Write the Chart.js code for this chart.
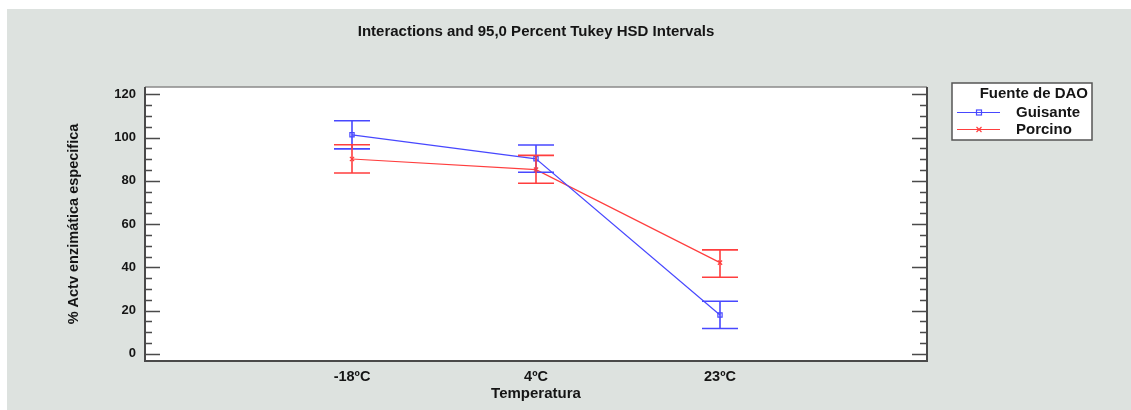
<!DOCTYPE html>
<html>
<head>
<meta charset="utf-8">
<script src="https://cdn.jsdelivr.net/npm/chart.js@4"></script>
<style>
  html, body { margin: 0; padding: 0; background: #fff; }
  canvas { display: block; }
</style>
</head>
<body>
<canvas id="chart" width="1131" height="410"></canvas>
<script>
// Datos
const categories = ['-18ºC', '4ºC', '23ºC'];
const guisanteMean = [101.3, 90.2, 18.0];
const guisanteLow = [94.8, 84.0, 11.7];
const guisanteHigh = [107.8, 96.6, 24.3];
const porcinoMean = [90.1, 85.2, 42.2];
const porcinoLow = [83.6, 78.9, 35.4];
const porcinoHigh = [96.7, 91.8, 48.1];
const yTicks = [0, 20, 40, 60, 80, 100, 120];

const FONT = "'Liberation Sans', Arial, sans-serif";
const BLUE = 'rgb(72, 72, 255)';
const RED = 'rgb(255, 62, 62)';
const TEXT = '#151515';

function toPoints(values) {
  return values.map((v, i) => ({ x: i + 1, y: v }));
}

// Fondo gris, título, marco, ticks y leyenda
const decor = {
  id: 'decor',
  beforeDraw(chart) {
    const ctx = chart.ctx;
    const a = chart.chartArea;
    ctx.save();
    ctx.fillStyle = '#ffffff';
    ctx.fillRect(0, 0, chart.width, chart.height);
    ctx.fillStyle = '#dde2df';
    ctx.fillRect(7, 9, chart.width - 7, chart.height - 9);
    ctx.fillStyle = '#ffffff';
    ctx.fillRect(a.left, a.top, a.right - a.left, a.bottom - a.top);
    ctx.restore();
  },
  afterDatasetsDraw(chart) {
    const ctx = chart.ctx;
    const a = chart.chartArea;
    const x = chart.scales.x;
    const y = chart.scales.y;

    // barras de error
    const bars = [
      [guisanteLow, guisanteHigh, BLUE],
      [porcinoLow, porcinoHigh, RED]
    ];
    ctx.save();
    ctx.lineWidth = 1.6;
    bars.forEach(([lo, hi, color]) => {
      ctx.strokeStyle = color;
      lo.forEach((l, i) => {
        const px = x.getPixelForValue(i + 1);
        const y1 = y.getPixelForValue(l);
        const y2 = y.getPixelForValue(hi[i]);
        ctx.beginPath();
        ctx.moveTo(px, y1);
        ctx.lineTo(px, y2);
        ctx.moveTo(px - 18, y1);
        ctx.lineTo(px + 18, y1);
        ctx.moveTo(px - 18, y2);
        ctx.lineTo(px + 18, y2);
        ctx.stroke();
      });
    });

    // marco
    ctx.strokeStyle = '#8a8a8a';
    ctx.lineWidth = 1.5;
    ctx.beginPath();
    ctx.moveTo(a.left, a.top);
    ctx.lineTo(a.right, a.top);
    ctx.stroke();
    ctx.strokeStyle = '#4a4a4a';
    ctx.lineWidth = 2;
    ctx.beginPath();
    ctx.moveTo(a.left, a.top);
    ctx.lineTo(a.left, a.bottom);
    ctx.lineTo(a.right, a.bottom);
    ctx.lineTo(a.right, a.top);
    ctx.stroke();

    // ticks interiores (mayores cada 20, menores cada 5)
    ctx.lineWidth = 1.5;
    ctx.strokeStyle = '#4a4a4a';
    for (let v = 0; v <= 120; v += 5) {
      const py = Math.round(y.getPixelForValue(v)) + 0.5;
      const len = v % 20 === 0 ? 15 : 7;
      ctx.beginPath();
      ctx.moveTo(a.left, py);
      ctx.lineTo(a.left + len, py);
      ctx.moveTo(a.right, py);
      ctx.lineTo(a.right - len, py);
      ctx.stroke();
    }

    // título
    ctx.fillStyle = TEXT;
    ctx.font = 'bold 15px ' + FONT;
    ctx.textAlign = 'center';
    ctx.textBaseline = 'middle';
    ctx.fillText('Interactions and 95,0 Percent Tukey HSD Intervals', (a.left + a.right) / 2, 32);

    // leyenda
    const lx = 952, ly = 83, lw = 140, lh = 57;
    ctx.fillStyle = '#ffffff';
    ctx.fillRect(lx, ly, lw, lh);
    ctx.strokeStyle = '#555555';
    ctx.lineWidth = 1.5;
    ctx.strokeRect(lx, ly, lw, lh);
    ctx.fillStyle = TEXT;
    ctx.font = 'bold 15px ' + FONT;
    ctx.textAlign = 'right';
    ctx.fillText('Fuente de DAO', lx + lw - 4, 94);
    const items = [['Guisante', BLUE, 'rect', 112.5], ['Porcino', RED, 'cross', 129.5]];
    items.forEach(([label, color, marker, iy]) => {
      ctx.strokeStyle = color;
      ctx.lineWidth = 1.2;
      ctx.beginPath();
      ctx.moveTo(957, iy);
      ctx.lineTo(1000, iy);
      ctx.stroke();
      if (marker === 'rect') {
        ctx.strokeRect(976.5, iy - 2.5, 5, 5);
      } else {
        ctx.beginPath();
        ctx.moveTo(976.5, iy - 2.5);
        ctx.lineTo(981.5, iy + 2.5);
        ctx.moveTo(981.5, iy - 2.5);
        ctx.lineTo(976.5, iy + 2.5);
        ctx.stroke();
      }
      ctx.fillStyle = TEXT;
      ctx.textAlign = 'left';
      ctx.fillText(label, 1016, iy);
    });
    ctx.restore();
  }
};

const ctx = document.getElementById('chart').getContext('2d');
const chart = new Chart(ctx, {
  type: 'line',
  data: {
    datasets: [
      {
        label: 'Guisante',
        data: toPoints(guisanteMean),
        borderColor: BLUE,
        backgroundColor: 'transparent',
        borderWidth: 1.2,
        pointStyle: 'rect',
        pointRadius: 3,
        pointBorderWidth: 1.2,
        pointBorderColor: BLUE,
        pointBackgroundColor: 'transparent',
        tension: 0
      },
      {
        label: 'Porcino',
        data: toPoints(porcinoMean),
        borderColor: RED,
        backgroundColor: 'transparent',
        borderWidth: 1.2,
        pointStyle: 'crossRot',
        pointRadius: 3,
        pointBorderWidth: 1.2,
        pointBorderColor: RED,
        tension: 0
      }
    ]
  },
  options: {
    responsive: false,
    animation: false,
    devicePixelRatio: 1,
    layout: {
      padding: { top: 87, right: 204, bottom: 7, left: 65 }
    },
    scales: {
      x: {
        type: 'linear',
        min: -0.125,
        max: 4.125,
        grid: { display: false, drawTicks: false },
        border: { display: false },
        afterBuildTicks(scale) {
          scale.ticks = categories.map((c, i) => ({ value: i + 1 }));
        },
        afterFit(scale) {
          scale.height = 42;
        },
        ticks: {
          padding: 7,
          color: TEXT,
          font: { family: FONT, size: 14.5, weight: 'bold' },
          maxRotation: 0,
          callback: (v) => categories[v - 1] || ''
        },
        title: {
          display: true,
          text: 'Temperatura',
          color: TEXT,
          padding: 0,
          font: { family: FONT, size: 15, weight: 'bold' }
        }
      },
      y: {
        min: -3.3,
        max: 123.4,
        grid: { display: false, drawTicks: false },
        border: { display: false },
        afterBuildTicks(scale) {
          scale.ticks = yTicks.map(v => ({ value: v }));
        },
        afterFit(scale) {
          scale.width = 80;
        },
        ticks: {
          padding: 9,
          color: TEXT,
          font: { family: FONT, size: 13, weight: 'bold' }
        },
        title: {
          display: true,
          text: '% Actv enzimática especifica',
          color: TEXT,
          padding: 0,
          font: { family: FONT, size: 14.5, weight: 'bold' }
        }
      }
    },
    plugins: {
      legend: { display: false },
      title: { display: false },
      tooltip: { enabled: false }
    }
  },
  plugins: [decor]
});
</script>
</body>
</html>
